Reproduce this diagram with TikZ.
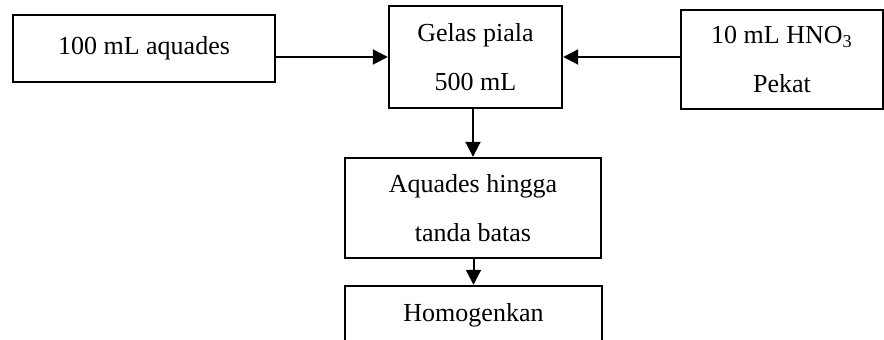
\documentclass[tikz,border=0pt]{standalone}
\usepackage{fontspec}
\setmainfont{Liberation Serif}
\usetikzlibrary{arrows.meta}
\begin{document}
\begin{tikzpicture}[x=0.5pt, y=-0.5pt,
    kotak/.style={draw, line width=1.2pt, inner sep=0pt, align=center,
        font=\fontsize{13}{24.5}\selectfont},
    panah/.style={line width=1pt, -{Triangle[length=7.5pt, width=7.5pt]}}]
    \useasboundingbox (0,0) rectangle (884,340);
    % bahan masuk ke gelas piala
    \node[kotak, minimum width=131pt, minimum height=33.5pt] (aquades) at (144,48.5) {100 mL aquades};
    \node[kotak, minimum width=86.5pt, minimum height=51pt] (gelas) at (475.5,57) {Gelas piala\\500 mL};
    \node[kotak, minimum width=101pt, minimum height=49.5pt] (hno) at (782,59.5) {10 mL HNO\textsubscript{3}\\Pekat};
    % langkah berikutnya
    \node[kotak, minimum width=128pt, minimum height=50pt] (tanda) at (473,208) {Aquades hingga\\tanda batas};
    \node[kotak, minimum width=128.5pt, minimum height=29pt] (homogen) at (473.5,315) {Homogenkan};
    \draw[panah] (aquades.east |- gelas.west) -- (gelas.west);
    \draw[panah] (hno.west |- gelas.east) -- (gelas.east);
    \foreach \a/\b in {gelas/tanda, tanda/homogen}{
        \draw[panah] (\b.north |- \a.south) -- (\b.north);
    }
\end{tikzpicture}
\end{document}
